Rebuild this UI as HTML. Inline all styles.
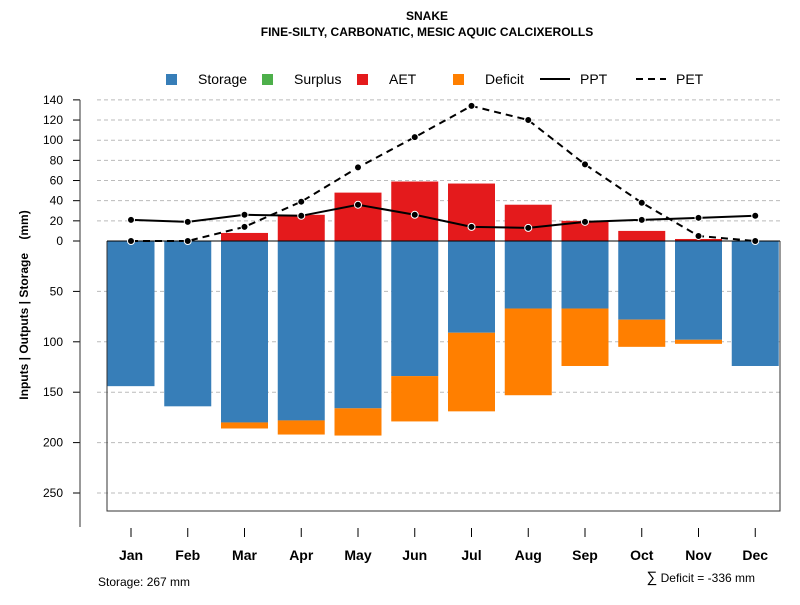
<!DOCTYPE html>
<html><head><meta charset="utf-8"><style>
body{margin:0;background:#fff}
svg text{font-family:"Liberation Sans",sans-serif}
</style></head><body>
<svg id="chart" width="800" height="600" xmlns="http://www.w3.org/2000/svg">
<text x="427" y="20" text-anchor="middle" font-size="12" font-weight="bold">SNAKE</text>
<text x="427" y="36" text-anchor="middle" font-size="12" font-weight="bold">FINE-SILTY, CARBONATIC, MESIC AQUIC CALCIXEROLLS</text>
<g>
<rect x="166" y="74" width="11" height="11" fill="#377EB8"/>
<text x="198" y="84" font-size="14">Storage</text>
<rect x="262" y="74" width="11" height="11" fill="#4DAF4A"/>
<text x="294" y="84" font-size="14">Surplus</text>
<rect x="357" y="74" width="11" height="11" fill="#E41A1C"/>
<text x="389" y="84" font-size="14">AET</text>
<rect x="453" y="74" width="11" height="11" fill="#FF7F00"/>
<text x="485" y="84" font-size="14">Deficit</text>
<line x1="540" y1="79" x2="570" y2="79" stroke="#000" stroke-width="2"/>
<text x="580" y="84" font-size="14">PPT</text>
<line x1="636" y1="79" x2="666" y2="79" stroke="#000" stroke-width="2" stroke-dasharray="7,5"/>
<text x="676" y="84" font-size="14">PET</text>
</g>
<g id="grid"></g><g id="bars"></g><g id="frame"></g><g id="lines"></g><g id="axes"></g>
<text x="28" y="305" transform="rotate(-90 28 305)" text-anchor="middle" font-size="12" font-weight="bold" style="white-space:pre" xml:space="preserve">Inputs | Outputs | Storage    (mm)</text>
<text x="98" y="586" font-size="12">Storage: 267 mm</text>
<text x="755" y="582" text-anchor="end" font-size="12"><tspan font-size="15">∑</tspan> Deficit = -336 mm</text>
</svg>
<script>
const months=["Jan","Feb","Mar","Apr","May","Jun","Jul","Aug","Sep","Oct","Nov","Dec"];
const storage=[144,164,180,178,166,134,91,67,67,78,98,124];
const deficit=[0,0,6,14,27,45,78,86,57,27,4,0];
const aet=[0,0,8,26,48,59,57,36,20,10,2,0];
const ppt=[21,19,26,25,36,26,14,13,19,21,23,25];
const pet=[0,0,14,39,73,103,134,120,76,38,5,0];
const posTicks=[0,20,40,60,80,100,120,140];
const negTicks=[50,100,150,200,250];
const NS="http://www.w3.org/2000/svg";
const x=i=>131+i*56.75;
const y=v=>241-v*1.008;
function mk(tag,attrs,parent,txt){const e=document.createElementNS(NS,tag);for(const k in attrs)e.setAttribute(k,attrs[k]);if(txt!==undefined)e.textContent=txt;document.getElementById(parent).appendChild(e);return e;}
const bw=47;
posTicks.concat(negTicks.map(v=>-v)).forEach(v=>{
 if(v!==0){const g=mk('line',{x1:97,x2:780,y1:y(v),y2:y(v),stroke:'#bbb','stroke-dasharray':'4,3'},'grid');
 
 }
 const t=mk('line',{x1:73,x2:80,y1:y(v),y2:y(v),stroke:'#000'},'axes');
 
 
 const l=mk('text',{x:63,y:y(v)+4,'text-anchor':'end','font-size':12},'axes',String(Math.abs(v)));
 
 
});
months.forEach((m,i)=>{
 const b=mk('rect',{x:x(i)-bw/2,y:y(0),width:bw,height:y(-storage[i])-y(0),fill:'#377EB8'},'bars');
 
 
 if(deficit[i]>0){const d=mk('rect',{x:x(i)-bw/2,y:y(-storage[i]),width:bw,height:y(-storage[i]-deficit[i])-y(-storage[i]),fill:'#FF7F00'},'bars');
 
 }
 if(aet[i]>0){const a=mk('rect',{x:x(i)-bw/2,y:y(aet[i]),width:bw,height:y(0)-y(aet[i]),fill:'#E41A1C'},'bars');
 
 }
 const t=mk('line',{x1:x(i),x2:x(i),y1:528,y2:537,stroke:'#000'},'axes');
 
 
 const l=mk('text',{x:x(i),y:560,'text-anchor':'middle','font-size':14,'font-weight':'bold'},'axes',m);
 
 
});
const fr=mk('path',{d:`M107 ${y(0)} V511 H780 V${y(0)}`,fill:'none',stroke:'#333'},'frame');


const zl=mk('line',{x1:107,x2:780,y1:y(0),y2:y(0),stroke:'#000'},'frame');


const ax=mk('line',{x1:80,x2:80,y1:y(140),y2:527,stroke:'#333'},'axes');


const pp=mk('polyline',{points:ppt.map((v,i)=>x(i)+','+y(v)).join(' '),fill:'none',stroke:'#000','stroke-width':2},'lines');


const pe=mk('polyline',{points:pet.map((v,i)=>x(i)+','+y(v)).join(' '),fill:'none',stroke:'#000','stroke-width':2,'stroke-dasharray':'7,5'},'lines');


[ppt,pet].forEach((s,k)=>s.forEach((v,i)=>{
 const c=mk('circle',{cx:x(i),cy:y(v),r:3.5,fill:'#000',stroke:'#fff','stroke-width':1},'lines');
 
 
}));
</script>
</body></html>
